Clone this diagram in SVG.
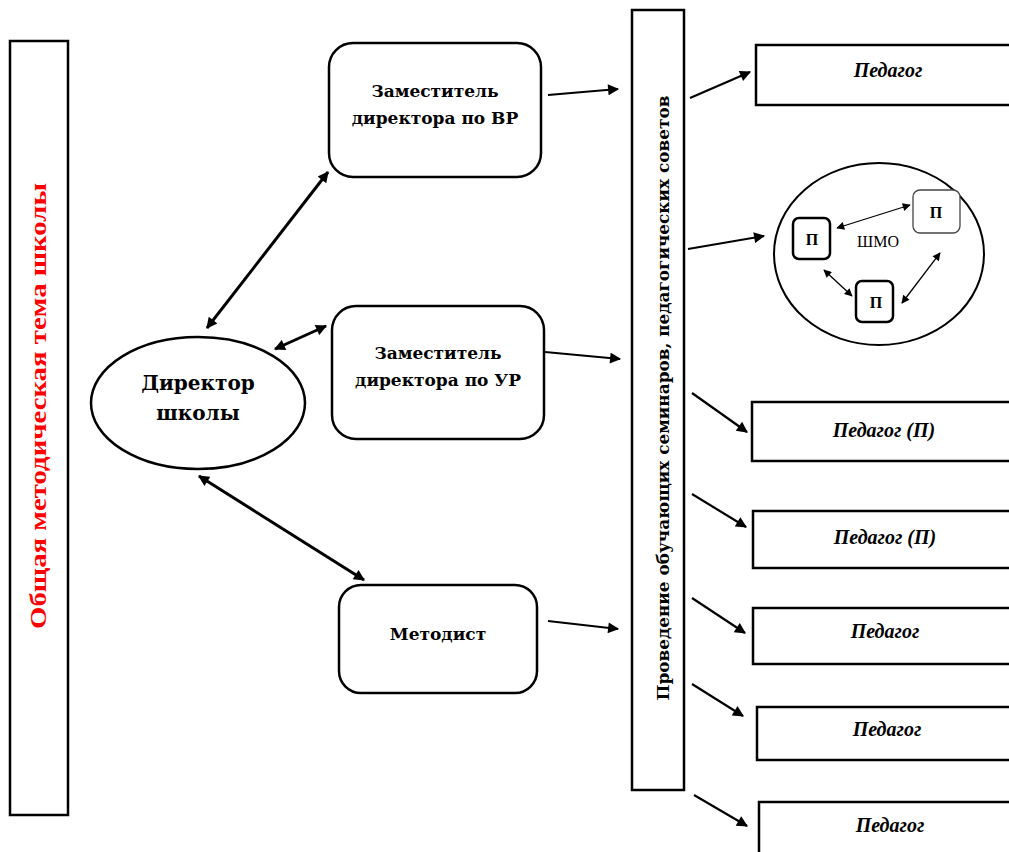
<svg xmlns="http://www.w3.org/2000/svg" width="1009" height="852" viewBox="0 0 1009 852">
<style>
.box{fill:#fff;stroke:#000;stroke-width:2.5}
.bar{fill:#fff;stroke:#000;stroke-width:2.5}
.t{font-family:"DejaVu Serif","Liberation Serif",serif;font-weight:bold;fill:#000;text-anchor:middle}
.tl{font-family:"Liberation Serif","DejaVu Serif",serif;font-weight:bold;fill:#000;text-anchor:middle}
.ti{font-family:"Liberation Serif","DejaVu Serif",serif;font-weight:bold;font-style:italic;font-size:20px;fill:#000;text-anchor:middle}
.c{stroke:#000;stroke-width:2.2;fill:none}
.c2{stroke:#000;stroke-width:3;fill:none}
.cs{stroke:#000;stroke-width:1.3;fill:none}
</style>
<defs>
<marker id="a" viewBox="0 0 10 10" refX="9" refY="5" markerWidth="13" markerHeight="11" markerUnits="userSpaceOnUse" orient="auto-start-reverse">
<path d="M0,0 L10,5 L0,10 z" fill="#000"/>
</marker>
<marker id="as" viewBox="0 0 10 10" refX="9" refY="5" markerWidth="9" markerHeight="8" markerUnits="userSpaceOnUse" orient="auto-start-reverse">
<path d="M0,0 L10,5 L0,10 z" fill="#000"/>
</marker>
</defs>
<rect width="1009" height="852" fill="#fff"/>

<g id="theme">
<rect class="bar" x="10" y="41" width="58" height="774" stroke-width="3"/>
<text class="tl" transform="translate(46,406) rotate(-90)" font-size="24" style="fill:#ff0000" textLength="446" lengthAdjust="spacingAndGlyphs">Общая методическая тема школы</text>
</g>

<g id="director">
<ellipse cx="198" cy="403" rx="107" ry="66" fill="#fff" stroke="#000" stroke-width="2.5"/>
<text class="t" x="198" y="390" font-size="20">Директор</text>
<text class="t" x="198" y="420" font-size="20">школы</text>
</g>

<g id="deputy-vr">
<rect class="box" x="329" y="43" width="212" height="134" rx="24"/>
<text class="t" x="435" y="97" font-size="17">Заместитель</text>
<text class="t" x="435" y="124" font-size="17">директора по ВР</text>
</g>

<g id="deputy-ur">
<rect class="box" x="332" y="306" width="212" height="133" rx="24"/>
<text class="t" x="438" y="359" font-size="17">Заместитель</text>
<text class="t" x="438" y="386" font-size="17">директора по УР</text>
</g>

<g id="methodist">
<rect class="box" x="339" y="585" width="198" height="108" rx="22"/>
<text class="t" x="438" y="640" font-size="17">Методист</text>
</g>

<g id="seminars">
<rect class="bar" x="632" y="10" width="52" height="780"/>
<text class="t" transform="translate(669,398) rotate(-90)" font-size="16" textLength="605" lengthAdjust="spacingAndGlyphs">Проведение обучающих семинаров, педагогических советов</text>
</g>

<g id="ped1">
<rect class="box" x="756" y="45" width="260" height="60"/>
<text class="ti" x="888" y="77">Педагог</text>
</g>

<g id="shmo">
<ellipse cx="879" cy="254" rx="105" ry="91" fill="#fff" stroke="#000" stroke-width="2"/>
<rect x="793" y="218" width="37" height="41" rx="6" fill="#fff" stroke="#000" stroke-width="2.5"/>
<text class="tl" x="812" y="245" font-size="16">П</text>
<rect x="913" y="190" width="47" height="43" rx="7" fill="#fff" stroke="#444" stroke-width="1.3"/>
<text class="tl" x="936" y="218" font-size="16">П</text>
<rect x="856" y="281" width="37" height="41" rx="6" fill="#fff" stroke="#000" stroke-width="2.5"/>
<text class="tl" x="876" y="308" font-size="16">П</text>
<text x="878" y="247" font-family="Liberation Serif, DejaVu Serif, serif" font-size="16" text-anchor="middle" fill="#000">ШМО</text>
<line class="cs" x1="837" y1="228" x2="910" y2="205" marker-start="url(#as)" marker-end="url(#as)"/>
<line class="cs" x1="824" y1="270" x2="852" y2="296" marker-start="url(#as)" marker-end="url(#as)"/>
<line class="cs" x1="902" y1="303" x2="940" y2="253" marker-start="url(#as)" marker-end="url(#as)"/>
</g>

<g id="ped2">
<rect class="box" x="752" y="402" width="264" height="59"/>
<text class="ti" x="884" y="437">Педагог (П)</text>
</g>
<g id="ped3">
<rect class="box" x="753" y="511" width="263" height="57"/>
<text class="ti" x="885" y="544">Педагог (П)</text>
</g>
<g id="ped4">
<rect class="box" x="753" y="608" width="263" height="56"/>
<text class="ti" x="885" y="638">Педагог</text>
</g>
<g id="ped5">
<rect class="box" x="757" y="707" width="259" height="53"/>
<text class="ti" x="887" y="736">Педагог</text>
</g>
<g id="ped6">
<rect class="box" x="759" y="802" width="257" height="60"/>
<text class="ti" x="890" y="832">Педагог</text>
</g>

<g id="connectors">
<line class="c2" x1="207" y1="328" x2="328" y2="172" marker-start="url(#a)" marker-end="url(#a)"/>
<line class="c2" x1="275" y1="349" x2="326" y2="326" marker-start="url(#a)" marker-end="url(#a)"/>
<line class="c2" x1="199" y1="476" x2="364" y2="580" marker-start="url(#a)" marker-end="url(#a)"/>
<line class="c" x1="548" y1="95" x2="618" y2="89" marker-end="url(#a)"/>
<line class="c" x1="545" y1="352" x2="620" y2="359" marker-end="url(#a)"/>
<line class="c" x1="548" y1="621" x2="618" y2="629" marker-end="url(#a)"/>
<line class="c" x1="690" y1="98" x2="750" y2="72" marker-end="url(#a)"/>
<line class="c" x1="688" y1="249" x2="764" y2="236" marker-end="url(#a)"/>
<line class="c" x1="692" y1="393" x2="747" y2="432" marker-end="url(#a)"/>
<line class="c" x1="692" y1="494" x2="746" y2="527" marker-end="url(#a)"/>
<line class="c" x1="692" y1="598" x2="745" y2="633" marker-end="url(#a)"/>
<line class="c" x1="692" y1="684" x2="743" y2="716" marker-end="url(#a)"/>
<line class="c" x1="694" y1="795" x2="747" y2="826" marker-end="url(#a)"/>
</g>
</svg>
